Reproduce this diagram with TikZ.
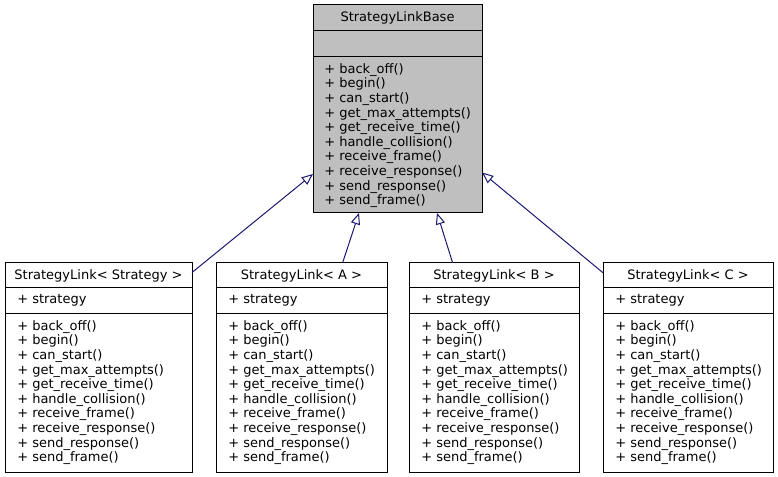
\documentclass[tikz,border=0pt]{standalone}
\usepackage{fontspec}
\setmainfont{DejaVu Sans}
\usetikzlibrary{arrows.meta,calc}
\definecolor{edgeblue}{HTML}{191970}
\definecolor{basegray}{HTML}{BFBFBF}
\newcommand\methodlist{+ back\_off()\\+ begin()\\+ can\_start()\\+ get\_max\_attempts()\\+ get\_receive\_time()\\+ handle\_collision()\\+ receive\_frame()\\+ receive\_response()\\+ send\_response()\\+ send\_frame()}
\begin{document}
\begin{tikzpicture}[x=0.75pt,y=-0.75pt,
  font=\fontsize{9.75}{10.95}\selectfont,
  part/.style 2 args={draw=black, line width=0.75pt, anchor=north west, outer sep=0pt,
    inner sep=0pt, minimum width=#1*0.75pt, minimum height=#2*0.75pt, align=center},
  txt/.style={anchor=west, inner sep=0pt, align=left},
  inh/.style={draw=edgeblue, line width=0.75pt, -{Triangle[fill=white,length=8.5pt,width=7pt]}}]
\useasboundingbox (0,0) rectangle (778,477);
% base class
\node[part={169}{26}, fill=basegray] (th) at (313,5) {StrategyLinkBase};
\node[part={169}{26}, fill=basegray] (ta) at (th.south west) {};
\node[part={169}{156}, fill=basegray] (tm) at (ta.south west) {};
\node[txt] (tmt) at ($(tm.west)+(11,0.5)$) {\methodlist};
% derived classes
\node[part={187}{25}] (h1) at (5,263) {StrategyLink< Strategy >};
\node[part={187}{25}] (a1) at (h1.south west) {};
\node[txt] (a1t) at ($(a1.west)+(12,0)$) {+ strategy};
\node[part={187}{159}] (m1) at (a1.south west) {};
\node[txt] (m1t) at ($(m1.west)+(12,0)$) {\methodlist};
\node[part={171}{25}] (h2) at (216,263) {StrategyLink< A >};
\node[part={171}{25}] (a2) at (h2.south west) {};
\node[txt] (a2t) at ($(a2.west)+(12,0)$) {+ strategy};
\node[part={171}{159}] (m2) at (a2.south west) {};
\node[txt] (m2t) at ($(m2.west)+(12,0)$) {\methodlist};
\node[part={170}{25}] (h3) at (409,263) {StrategyLink< B >};
\node[part={170}{25}] (a3) at (h3.south west) {};
\node[txt] (a3t) at ($(a3.west)+(12,0)$) {+ strategy};
\node[part={170}{159}] (m3) at (a3.south west) {};
\node[txt] (m3t) at ($(m3.west)+(12,0)$) {\methodlist};
\node[part={170}{25}] (h4) at (603,263) {StrategyLink< C >};
\node[part={170}{25}] (a4) at (h4.south west) {};
\node[txt] (a4t) at ($(a4.west)+(12,0)$) {+ strategy};
\node[part={170}{159}] (m4) at (a4.south west) {};
\node[txt] (m4t) at ($(m4.west)+(12,0)$) {\methodlist};
% inheritance edges
\draw[inh] ($(h1.north east)!0.38!(h1.south east)$) -- ($(tm.north west)!0.75!(tm.south west)$);
\draw[inh] ($(h2.north west)!0.74!(h2.north east)$) -- ($(tm.south west)!0.272!(tm.south east)$);
\draw[inh] ($(h3.north west)!0.257!(h3.north east)$) -- ($(tm.south west)!0.734!(tm.south east)$);
\draw[inh] ($(h4.north west)!0.39!(h4.south west)$) -- ($(tm.north east)!0.74!(tm.south east)$);
\end{tikzpicture}
\end{document}
